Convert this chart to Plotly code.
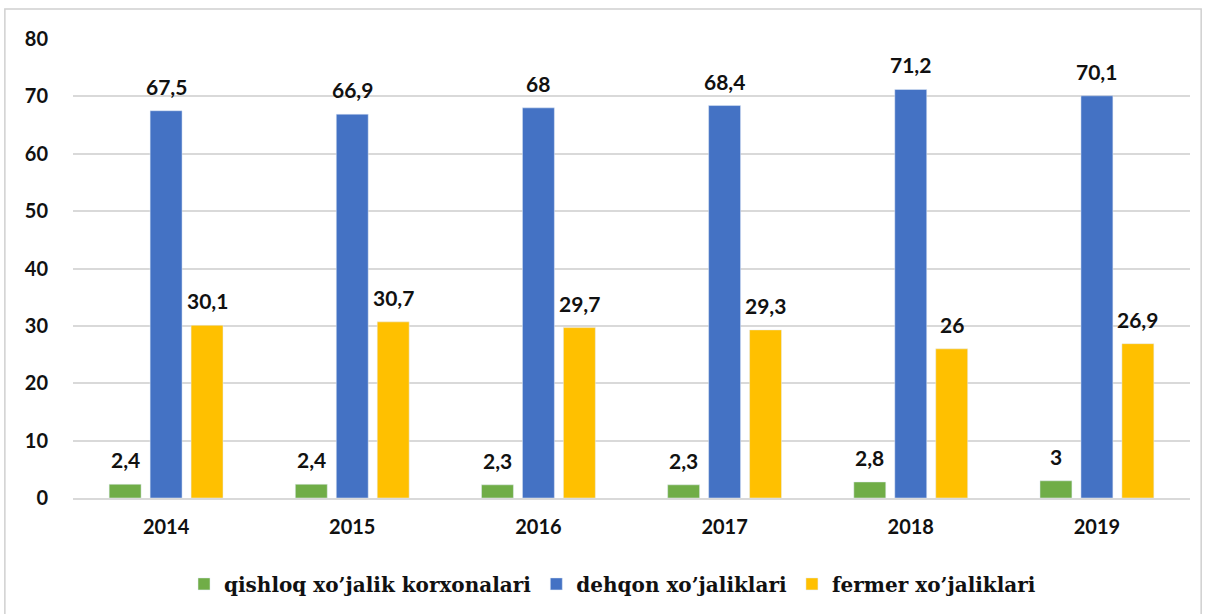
import plotly.graph_objects as go

years = ["2014", "2015", "2016", "2017", "2018", "2019"]
qishloq = [2.4, 2.4, 2.3, 2.3, 2.8, 3.0]
dehqon = [67.5, 66.9, 68.0, 68.4, 71.2, 70.1]
fermer = [30.1, 30.7, 29.7, 29.3, 26.0, 26.9]
series_names = ["qishloq xo\u2019jalik korxonalari", "dehqon xo\u2019jaliklari", "fermer xo\u2019jaliklari"]
colors = ["#70AD47", "#4472C4", "#FFC000"]
y_ticks = [0, 10, 20, 30, 40, 50, 60, 70, 80]


def fmt(v):
    return f"{v:g}".replace(".", ",")


fig = go.Figure()
all_series = [qishloq, dehqon, fermer]
for name, vals, col in zip(series_names, all_series, colors):
    fig.add_trace(go.Bar(x=years, y=vals, name="<b>" + name + "</b>", marker_color=col))

# data labels placed at the bar tops (grouped offsets in pixels)
slot_px = 41
for i, vals in enumerate(all_series):
    for j, v in enumerate(vals):
        fig.add_annotation(x=j, y=v, xref="x", yref="y", text="<b>" + fmt(v) + "</b>",
                           showarrow=False, yanchor="bottom", xanchor="center",
                           xshift=(i - 1) * slot_px, yshift=10,
                           font=dict(family="Lato", size=21, color="#111111"))

fig.update_layout(
    width=1206, height=614,
    margin=dict(l=73, r=16, t=39, b=116, autoexpand=False),
    paper_bgcolor="white", plot_bgcolor="white",
    barmode="group", bargap=0.34, bargroupgap=0.22,
    font=dict(family="Lato", color="#111111"),
    showlegend=True,
    legend=dict(orientation="h", x=0.483, xanchor="center", y=0.049, yanchor="middle",
                yref="container",
                font=dict(family="DejaVu Serif", size=20, color="#111111"),
                traceorder="normal"),
    xaxis=dict(type="category", showgrid=False, showline=True, linecolor="#D9D9D9", linewidth=1.5,
               tickfont=dict(family="Lato", size=20, color="#111111"), ticks="",
               ticklabelstandoff=10,
               tickprefix="<b>", ticksuffix="</b>"),
    yaxis=dict(range=[0, 80], tickvals=y_ticks, ticktext=["<b>" + str(t) + "</b>" for t in y_ticks],
               showgrid=True, gridcolor="#D9D9D9", gridwidth=1.5, zeroline=False,
               tickfont=dict(family="Lato", size=20, color="#111111"), ticks="", ticklabelstandoff=24),
    shapes=[dict(type="rect", xref="paper", yref="paper", x0=-0.0610, x1=1.0100, y0=-0.30, y1=1.0655,
                 line=dict(color="#D0D0D0", width=1.5), fillcolor="rgba(0,0,0,0)", layer="below")],
)

fig.write_html("out.html", post_script="document.body.style.margin='0';",
               config={"displayModeBar": False})
